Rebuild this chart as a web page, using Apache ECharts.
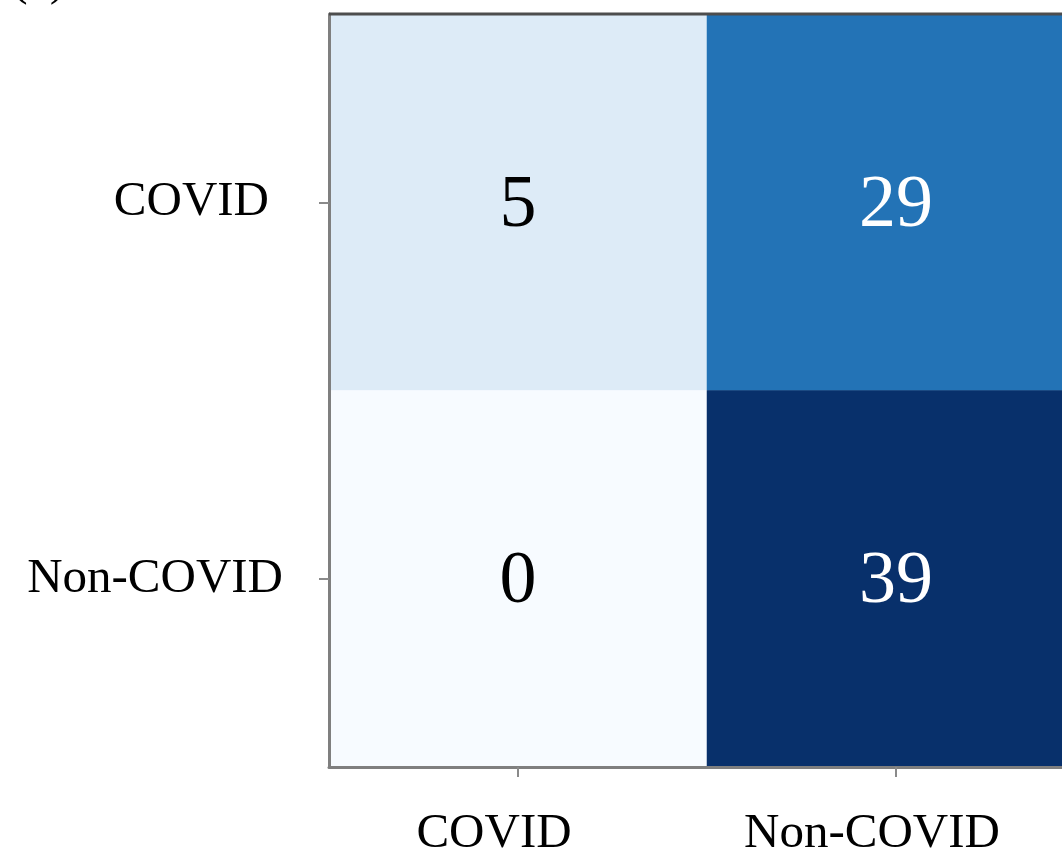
<!DOCTYPE html>
<html>
<head>
<meta charset="utf-8">
<script src="https://cdn.jsdelivr.net/npm/echarts@6/dist/echarts.min.js"></script>
<style>
html,body{margin:0;padding:0;background:#fff;}
#chart{width:1062px;height:850px;}
</style>
</head>
<body>
<div id="chart"></div>
<script>
// Data
const xCategories = ['COVID', 'Non-COVID'];
const yCategories = ['Non-COVID', 'COVID']; // bottom to top
// rows: [xIndex, yIndex, value]
const rowCOVID = [5, 29];
const rowNonCOVID = [0, 39];
const panelLabel = '(a)';

const cells = [];
rowCOVID.forEach((v, i) => cells.push([i, 1, v]));
rowNonCOVID.forEach((v, i) => cells.push([i, 0, v]));
const vmax = Math.max(...rowCOVID, ...rowNonCOVID);

const serif = "'Liberation Serif', 'Times New Roman', 'DejaVu Serif', serif";
const chart = echarts.init(document.getElementById('chart'), null, {renderer: 'canvas'});
chart.setOption({
  backgroundColor: '#ffffff',
  animation: false,
  title: {
    text: panelLabel, left: 6, top: -49,
    textStyle: {fontFamily: serif, fontSize: 50, fontWeight: 'normal', color: '#000'}
  },
  grid: {left: 329, top: 14, right: -23, bottom: 83, containLabel: false, outerBoundsMode: 'none'},
  xAxis: {
    type: 'category', data: xCategories, position: 'bottom', z: 10,
    axisLine: {show: true, lineStyle: {color: '#7f7f7f', width: 3}},
    axisTick: {show: true, alignWithLabel: true, length: 10, lineStyle: {color: '#8a8a8a', width: 2}},
    axisLabel: {fontFamily: serif, fontSize: 49, color: '#000', margin: 43, padding: [0, 48, 0, 0]},
    splitLine: {show: false}
  },
  yAxis: {
    type: 'category', data: yCategories, z: 10,
    axisLine: {show: true, lineStyle: {color: '#7f7f7f', width: 3}},
    axisTick: {show: true, alignWithLabel: true, length: 10, lineStyle: {color: '#8a8a8a', width: 2}},
    axisLabel: {
      fontFamily: serif, fontSize: 49, color: '#000', margin: 46,
      formatter: v => v === 'COVID' ? '{s|' + v + '}' : v,
      rich: {s: {fontFamily: serif, fontSize: 49, color: '#000', padding: [0, 14, 0, 0]}}
    },
    splitLine: {show: false}
  },
  visualMap: {
    show: false, min: 0, max: vmax, dimension: 2,
    inRange: {color: ['#f7fbff','#deebf7','#c6dbef','#9ecae1','#6baed6','#4292c6','#2171b5','#08519c','#08306b']}
  },
  series: [{
    type: 'heatmap',
    data: cells,
    label: {
      show: true,
      formatter: p => (p.value[2] > vmax / 2 ? '{w|' : '{k|') + p.value[2] + '}',
      rich: {
        w: {fontFamily: serif, fontSize: 74, color: '#ffffff', padding: [8, 0, 0, 0]},
        k: {fontFamily: serif, fontSize: 74, color: '#000000', padding: [8, 0, 0, 0]}
      }
    },
    itemStyle: {borderWidth: 0},
    emphasis: {disabled: true}
  }]
});
// top border of the frame (matplotlib spine)
chart.setOption({
  graphic: [{
    type: 'line', z: 100,
    shape: {x1: 329, y1: 14, x2: 1062, y2: 14},
    style: {stroke: '#4d4d4d', lineWidth: 3}
  }]
});
</script>
</body>
</html>
